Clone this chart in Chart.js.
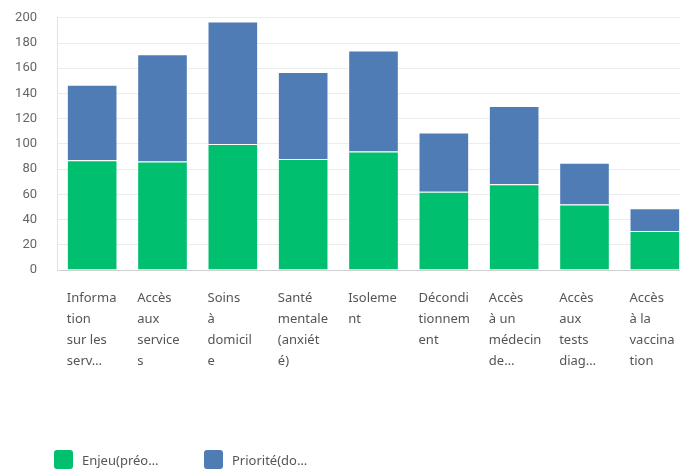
<!DOCTYPE html>
<html>
<head>
<meta charset="utf-8">
<script src="https://cdn.jsdelivr.net/npm/chart.js@4.4.0/dist/chart.umd.min.js"></script>
<style>
  html, body { margin: 0; padding: 0; background: #fff; overflow: hidden; width: 680px; height: 472px; }
  #wrap { position: relative; width: 680px; height: 472px; overflow: hidden; }
  #chart { position: absolute; top: -10px; left: 0; }
  #legend { position: absolute; top: 450px; left: 54px; font: 13px "Noto Sans", sans-serif; color: #555; }
  #legend .item { position: absolute; top: 0; white-space: nowrap; }
  #legend .box { position: absolute; top: 0; left: 0; width: 19px; height: 19px; border-radius: 3px; }
  #legend .txt { position: absolute; top: 0; left: 28px; line-height: 20px; }
</style>
</head>
<body>
<div id="wrap">
  <canvas id="chart" width="690" height="482"></canvas>
  <div id="legend"></div>
</div>
<script>
// categories (already wrapped the way the labels appear)
const categories = [
    ['Informa', 'tion', 'sur les', 'serv…'],
    ['Accès', 'aux', 'service', 's'],
    ['Soins', 'à', 'domicil', 'e'],
    ['Santé', 'mentale', '(anxiét', 'é)'],
    ['Isoleme', 'nt'],
    ['Décondi', 'tionnem', 'ent'],
    ['Accès', 'à un', 'médecin', 'de…'],
    ['Accès', 'aux', 'tests', 'diag…'],
    ['Accès', 'à la', 'vaccina', 'tion']
];
const enjeuValues = [87, 86, 100, 88, 94, 62, 68, 52, 31];
const prioriteValues = [60, 85, 97, 69, 80, 47, 62, 33, 18];
const seriesLabels = ['Enjeu(préo…', 'Priorité(do…'];
const seriesColors = ['#00bf6f', '#507cb6'];
const yTicks = [0, 20, 40, 60, 80, 100, 120, 140, 160, 180, 200];

// draws the wrapped category labels left-aligned on each bar
const leftLabels = {
    id: 'leftLabels',
    afterDraw(chart) {
        const ctx = chart.ctx;
        const meta = chart.getDatasetMeta(0);
        const bottom = chart.chartArea.bottom;
        ctx.save();
        ctx.font = '13px "Noto Sans", sans-serif';
        ctx.fillStyle = '#555';
        ctx.textAlign = 'left';
        ctx.textBaseline = 'middle';
        categories.forEach(function (lines, i) {
            const bar = meta.data[i];
            const x = bar.x - bar.width / 2;
            lines.forEach(function (line, j) {
                ctx.fillText(line, x, bottom + 28 + j * 21);
            });
        });
        ctx.restore();
    }
};

new Chart(document.getElementById('chart'), {
    type: 'bar',
    data: {
        labels: categories.map(function (c) { return c.join(' '); }),
        datasets: [{
            label: seriesLabels[0],
            data: enjeuValues,
            backgroundColor: seriesColors[0],
            borderColor: 'rgba(255,255,255,0.35)',
            borderWidth: 1
        }, {
            label: seriesLabels[1],
            data: prioriteValues,
            backgroundColor: seriesColors[1],
            borderColor: 'rgba(255,255,255,0.35)',
            borderWidth: 1
        }]
    },
    options: {
        responsive: false,
        animation: false,
        layout: { padding: { top: 0, bottom: 194, left: 0, right: 0 } },
        plugins: {
            legend: { display: false },
            tooltip: { enabled: false }
        },
        scales: {
            x: {
                stacked: true,
                categoryPercentage: 1,
                barPercentage: 0.76,
                grid: { display: false },
                border: { display: true, color: '#d0d0d0', width: 1 },
                ticks: { display: false }
            },
            y: {
                stacked: true,
                min: 0,
                max: 200,
                afterBuildTicks(scale) {
                    scale.ticks = yTicks.map(function (v) { return { value: v }; });
                },
                afterFit(scale) { scale.width = 57; },
                grid: { color: '#ececec', drawTicks: false },
                border: { display: true, color: '#e2e2e2' },
                ticks: {
                    padding: 20,
                    color: '#666',
                    font: { family: 'Roboto, sans-serif', size: 13 }
                }
            }
        }
    },
    plugins: [leftLabels]
});

// legend
const legend = document.getElementById('legend');
const legendX = [0, 150];
seriesLabels.forEach(function (name, i) {
    const item = document.createElement('div');
    item.className = 'item';
    item.style.left = legendX[i] + 'px';
    item.innerHTML = '<span class="box" style="background:' + seriesColors[i] + '"></span><span class="txt">' + name + '</span>';
    legend.appendChild(item);
});
</script>
</body>
</html>
